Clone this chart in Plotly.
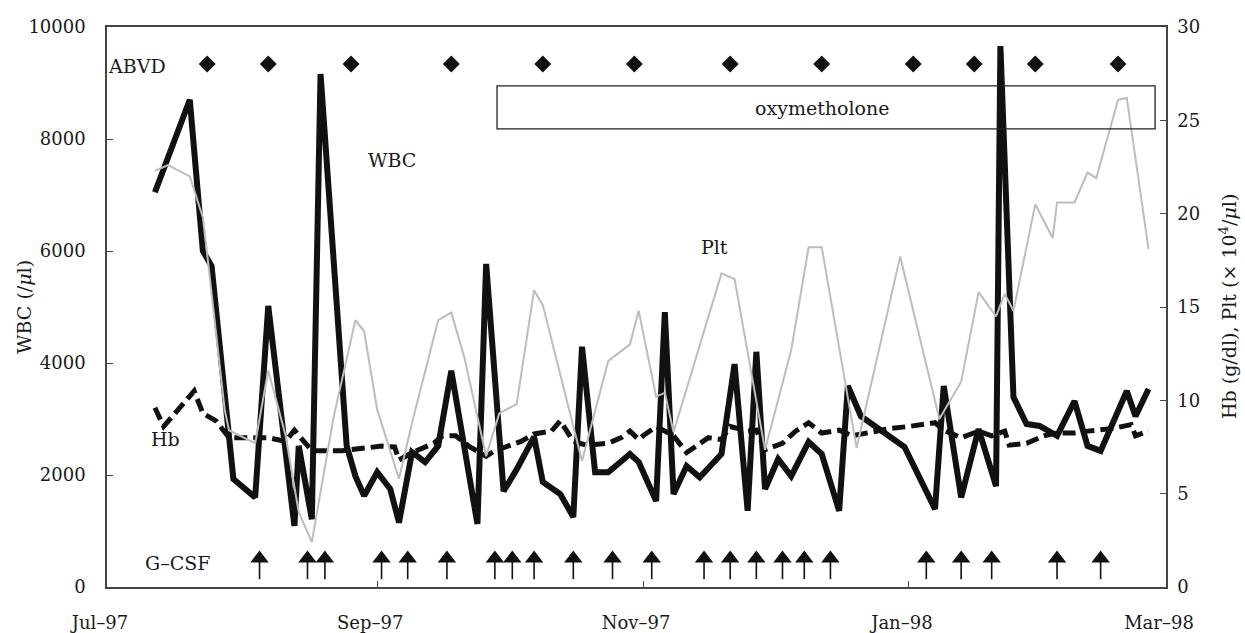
import pandas as pd
import plotly.graph_objects as go

# ---------------- data (days since 1 Jul 1997) ----------------
BASE = pd.Timestamp("1997-07-01")

wbc_days = [11, 19, 22, 24, 29, 34, 37, 43, 44, 47,
            49, 55, 57, 59, 62, 65, 67, 70, 73, 76,
            79, 83, 85, 87, 91, 94, 98, 100, 104, 107,
            109, 112, 115, 120, 122, 126, 128, 130, 133, 136,
            141, 144, 147, 149, 151, 154, 157, 161, 164, 168,
            170, 173, 183, 190, 192, 196, 200, 204, 205, 208,
            211, 214, 218, 222, 225, 228, 234, 236, 239]
wbc_vals = [7050, 8700, 6000, 5730, 1930, 1600, 5020, 1090, 2520, 1210,
            9160, 2520, 1980, 1630, 2050, 1750, 1150, 2410, 2230, 2520,
            3860, 1930, 1125, 5770, 1710, 2100, 2680, 1875, 1660, 1250,
            4290, 2050, 2050, 2375, 2230, 1535, 4910, 1660, 2160, 1960,
            2375, 3980, 1360, 4200, 1750, 2285, 1980, 2590, 2375, 1360,
            3590, 3050, 2500, 1390, 3590, 1600, 2820, 1800, 9660, 3390,
            2910, 2875, 2700, 3320, 2520, 2430, 3500, 3050, 3535]

hb_days = [11, 13, 20, 22, 25, 28, 34, 37, 41, 43,
           47, 54, 63, 66, 67, 70, 75, 77, 80, 83,
           87, 89, 92, 95, 98, 102, 104, 107, 110, 115,
           118, 120, 122, 123, 126, 130, 133, 135, 138, 141,
           143, 147, 149, 151, 155, 158, 161, 164, 168, 171,
           176, 180, 184, 190, 192, 196, 200, 203, 206, 207,
           211, 215, 218, 222, 225, 228, 231, 235, 236, 239]
hb_vals = [9.6, 8.6, 10.5, 9.3, 8.9, 8.0, 8.0, 8.0, 7.8, 8.4,
           7.3, 7.3, 7.55, 7.5, 6.8, 7.2, 7.7, 8.1, 8.1, 7.55,
           7.0, 7.3, 7.55, 7.8, 8.2, 8.35, 8.9, 7.8, 7.6, 7.7,
           8.0, 8.35, 7.9, 8.1, 8.6, 8.1, 7.2, 7.55, 8.0, 7.9,
           8.6, 8.35, 8.4, 7.35, 7.7, 8.35, 8.8, 8.25, 8.4, 8.1,
           8.35, 8.5, 8.6, 8.8, 8.4, 8.0, 8.35, 8.1, 8.35, 7.6,
           7.7, 8.1, 8.25, 8.25, 8.35, 8.4, 8.5, 8.7, 8.1, 8.35]

plt_days = [11, 14, 19, 22, 23, 27, 28, 34, 37, 41,
            44, 47, 52, 57, 59, 62, 67, 70, 76, 79,
            82, 87, 90, 94, 98, 100, 109, 115, 120, 122,
            126, 128, 130, 141, 144, 151, 157, 161, 164, 172,
            182, 191, 196, 200, 204, 206, 208, 213, 217, 218,
            222, 225, 227, 230, 232, 234, 239]
plt_vals = [22.3, 22.6, 22.0, 19.8, 17.8, 9.5, 8.4, 7.7, 11.6, 8.1,
            4.0, 2.4, 9.1, 14.3, 13.7, 9.5, 5.8, 8.8, 14.3, 14.7,
            12.3, 7.0, 9.3, 9.8, 15.9, 15.1, 6.75, 12.1, 13.0, 14.8,
            10.2, 10.4, 8.3, 16.8, 16.5, 7.35, 12.7, 18.2, 18.2, 7.45,
            17.7, 9.0, 11.0, 15.8, 14.5, 15.7, 14.8, 20.5, 18.7, 20.6,
            20.6, 22.2, 21.9, 24.4, 26.1, 26.2, 18.1]

abvd_days = [23, 37, 56, 79, 100, 121, 143, 164, 185, 199, 213, 232]
gcsf_days = [35, 46, 50, 63, 69, 78, 89, 93, 98, 107, 116, 125,
             137, 143, 149, 155, 160, 166, 188, 196, 203, 218, 228]
oxy_start, oxy_end = 89.5, 240.5

tick_dates = ["1997-07-01", "1997-09-01", "1997-11-01", "1998-01-01", "1998-03-01"]
tick_text = ["Jul–97", "Sep–97", "Nov–97", "Jan–98", "Mar–98"]
wbc_ticks = [0, 2000, 4000, 6000, 8000, 10000]
wbc_tick_text = ["0", "2000", "4000", "6000", "8000", "10000"]
right_ticks = [0, 5, 10, 15, 20, 25, 30]


def to_dates(days):
    return [BASE + pd.Timedelta(days=d) for d in days]


FONT = "DejaVu Serif"
INK = "#1a1a1a"

fig = go.Figure()

fig.add_trace(go.Scatter(x=to_dates(wbc_days), y=wbc_vals, mode="lines",
                         line=dict(color="#111111", width=6), name="WBC"))
fig.add_trace(go.Scatter(x=to_dates(hb_days), y=hb_vals, mode="lines", yaxis="y2",
                         line=dict(color="#111111", width=5, dash="13px,6px"), name="Hb"))
fig.add_trace(go.Scatter(x=to_dates(plt_days), y=plt_vals, mode="lines", yaxis="y2",
                         line=dict(color="#bdbdbd", width=2), name="Plt"))
fig.add_trace(go.Scatter(x=to_dates(abvd_days), y=[9340] * len(abvd_days), mode="markers",
                         marker=dict(symbol="diamond", size=13, color="#111111"),
                         name="ABVD"))
# G-CSF arrows: triangle heads with stems drawn as downward error bars
fig.add_trace(go.Scatter(x=to_dates(gcsf_days), y=[510] * len(gcsf_days), mode="markers",
                         marker=dict(symbol="triangle-up", size=16, color="#111111",
                                     line=dict(width=0)),
                         error_y=dict(type="data", symmetric=False,
                                      array=[0] * len(gcsf_days),
                                      arrayminus=[370] * len(gcsf_days),
                                      color="#111111", thickness=1.6, width=0),
                         name="G-CSF"))

annotations = []


def label(text, x, y, size=19, **kw):
    annotations.append(dict(text=text, x=x, y=y, xref="paper", yref="paper",
                            showarrow=False, font=dict(family=FONT, size=size, color=INK),
                            xanchor="center", yanchor="middle", **kw))


label("ABVD", 0.0288, 0.930)
label("WBC", 0.269, 0.7625)
label("Plt", 0.574, 0.607)
label("Hb", 0.0557, 0.264)
label("G–CSF", 0.067, 0.043)
label("oxymetholone", 0.675, 0.855)
label("WBC (/<i>μ</i>l)", 0, 0.5, textangle=-90, xshift=-83)
label("Hb (g/dl), Plt (× 10<sup>4</sup>/<i>μ</i>l)", 1, 0.5, textangle=-90, xshift=62)

shapes = [dict(type="rect", xref="x", yref="paper",
               x0=BASE + pd.Timedelta(days=oxy_start), x1=BASE + pd.Timedelta(days=oxy_end),
               y0=0.818, y1=0.895, line=dict(color="#222222", width=1.3))]

axis_common = dict(showgrid=False, zeroline=False, showline=True, linecolor="#444444",
                   linewidth=1.5, ticks="inside", ticklen=6, tickcolor="#444444",
                   automargin=False,
                   tickfont=dict(family=FONT, size=18, color=INK))

fig.update_layout(
    width=1245, height=633,
    margin=dict(l=107, r=79, t=27, b=46),
    plot_bgcolor="white", paper_bgcolor="white",
    showlegend=False,
    font=dict(family=FONT, color=INK),
    xaxis=dict(type="date", range=[tick_dates[0], tick_dates[-1]],
               tickvals=tick_dates, ticktext=tick_text, mirror=True,
               ticklabelstandoff=19, ticklabelshift=-7, **axis_common),
    yaxis=dict(range=[0, 10000], tickvals=wbc_ticks, ticktext=wbc_tick_text,
               ticklabelstandoff=16, **axis_common),
    yaxis2=dict(range=[0, 30], tickvals=right_ticks, overlaying="y", side="right",
                ticklabelstandoff=6, **axis_common),
    annotations=annotations,
    shapes=shapes,
)

fig.write_html("out.html", config={"displayModeBar": False},
               post_script="document.body.style.margin='0';")
